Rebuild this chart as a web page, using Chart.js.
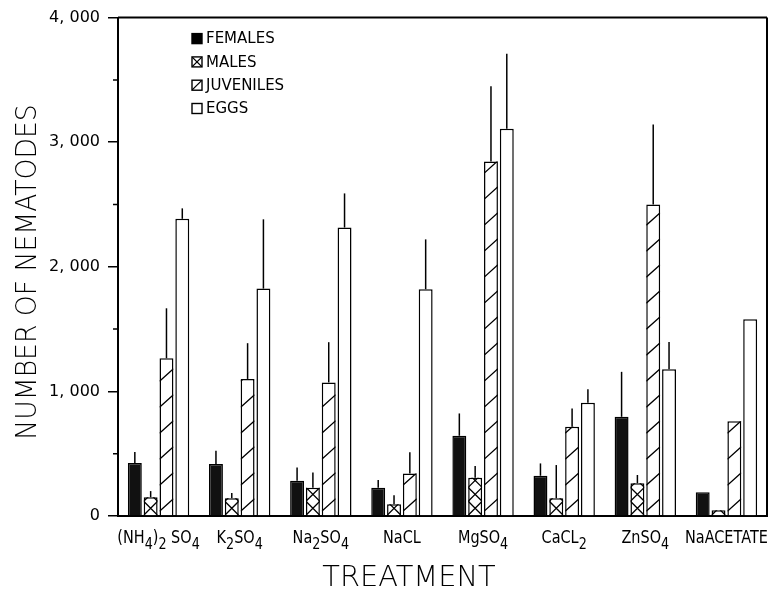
<!DOCTYPE html>
<html>
<head>
<meta charset="utf-8">
<script src="https://cdn.jsdelivr.net/npm/chart.js@4.4.0/dist/chart.umd.min.js"></script>
<style>
    html, body { margin: 0; padding: 0; background: #fff; }
    #wrap { width: 774px; height: 591px; }
</style>
</head>
<body>
<div id="wrap"><canvas id="chart" width="774" height="591"></canvas></div>
<script>
// '_' marks the next character as a subscript
const treatments = ['(NH_4)_2 SO_4', 'K_2SO_4', 'Na_2SO_4', 'NaCL', 'MgSO_4', 'CaCL_2', 'ZnSO_4', 'NaACETATE'];

const females      = [425, 417, 283, 227, 644, 323, 796, 190];
const femalesErr   = [88, 106, 107, 62, 179, 99, 361, 0];
const males        = [150, 142, 227, 94, 307, 142, 262, 46];
const malesErr     = [50, 42, 123, 72, 94, 267, 67, 0];
const juveniles    = [1266, 1100, 1072, 342, 2846, 716, 2501, 761];
const juvenilesErr = [401, 287, 323, 169, 603, 147, 641, 0];
const eggs         = [2385, 1825, 2315, 1820, 3107, 908, 1178, 1579];
const eggsErr      = [84, 556, 274, 400, 602, 110, 219, 0];

const yTicks = [0, 1000, 2000, 3000, 4000];
const legendNames = ['FEMALES', 'MALES', 'JUVENILES', 'EGGS'];

const FONT = '"DejaVu Sans", sans-serif';

function fmtTick(v) {
    if (v === 0) return '0';
    return Math.floor(v / 1000) + ', ' + String(v % 1000).padStart(3, '0');
}

function drawHatch(ctx, kind, left, right, top, bottom, lw) {
    const w = right - left;
    ctx.save();
    ctx.beginPath();
    ctx.rect(left, top, w, bottom - top);
    ctx.clip();
    ctx.strokeStyle = '#000';
    ctx.lineWidth = lw || 1.3;
    ctx.beginPath();
    if (kind === 'cross') {
        for (let yb = bottom; yb > top - w; yb -= w) {
            ctx.moveTo(left, yb); ctx.lineTo(right, yb - w);
            ctx.moveTo(left, yb - w); ctx.lineTo(right, yb);
        }
    } else if (kind === 'diag') {
        for (let yb = bottom - 4; yb > top - w; yb -= 26) {
            ctx.moveTo(left, yb); ctx.lineTo(right, yb - w * 0.9);
        }
    } else if (kind === 'slash') {
        ctx.moveTo(left, bottom); ctx.lineTo(right, top);
    }
    ctx.stroke();
    ctx.restore();
}

// hatching on top of the white bars
const hatchPlugin = {
    id: 'hatch',
    afterDatasetsDraw(chart) {
        const ctx = chart.ctx;
        chart.data.datasets.forEach((ds, i) => {
            if (!ds.hatch) return;
            chart.getDatasetMeta(i).data.forEach(el => {
                const p = el.getProps(['x', 'y', 'base', 'width'], true);
                drawHatch(ctx, ds.hatch, p.x - p.width / 2, p.x + p.width / 2, p.y, p.base);
            });
        });
    }
};

// one-sided error bars (line only, no caps)
const errorPlugin = {
    id: 'errors',
    afterDatasetsDraw(chart) {
        const ctx = chart.ctx;
        const yScale = chart.scales.y;
        ctx.save();
        ctx.strokeStyle = '#000';
        ctx.lineWidth = 1.5;
        chart.data.datasets.forEach((ds, i) => {
            chart.getDatasetMeta(i).data.forEach((el, j) => {
                const e = ds.errors[j];
                if (!e) return;
                const p = el.getProps(['x', 'y'], true);
                ctx.beginPath();
                ctx.moveTo(p.x, p.y);
                ctx.lineTo(p.x, yScale.getPixelForValue(ds.data[j] + e));
                ctx.stroke();
            });
        });
        ctx.restore();
    }
};

function drawLabel(ctx, text, cx, baseline) {
    const segs = [];
    for (let i = 0; i < text.length; i++) {
        if (text[i] === '_') { segs.push({ t: text[i + 1], sub: true }); i++; }
        else if (segs.length && !segs[segs.length - 1].sub) segs[segs.length - 1].t += text[i];
        else segs.push({ t: text[i], sub: false });
    }
    const mainFont = '17px ' + FONT, subFont = '15px ' + FONT;
    let total = 0;
    segs.forEach(s => { ctx.font = s.sub ? subFont : mainFont; s.w = ctx.measureText(s.t).width; total += s.w; });
    ctx.save();
    ctx.translate(cx, baseline);
    ctx.scale(0.85, 1);
    ctx.fillStyle = '#000';
    ctx.textAlign = 'left';
    ctx.textBaseline = 'alphabetic';
    let x = -total / 2;
    segs.forEach(s => {
        ctx.font = s.sub ? subFont : mainFont;
        ctx.fillText(s.t, x, s.sub ? 6 : 0);
        x += s.w;
    });
    ctx.restore();
}

// frame, minor ticks, category labels, titles and legend
const decorPlugin = {
    id: 'decor',
    afterDraw(chart) {
        const ctx = chart.ctx;
        const a = chart.chartArea;
        const xScale = chart.scales.x, yScale = chart.scales.y;
        ctx.save();
        ctx.strokeStyle = '#000';
        ctx.lineWidth = 2;
        ctx.beginPath();
        ctx.moveTo(a.left, a.top); ctx.lineTo(a.right, a.top);
        ctx.moveTo(a.right, a.top); ctx.lineTo(a.right, a.bottom);
        ctx.stroke();

        // minor ticks halfway between the labelled ones
        ctx.lineWidth = 1.5;
        ctx.beginPath();
        for (let k = 0; k < yTicks.length - 1; k++) {
            const py = yScale.getPixelForValue((yTicks[k] + yTicks[k + 1]) / 2);
            ctx.moveTo(a.left - 5, py); ctx.lineTo(a.left, py);
        }
        ctx.stroke();

        treatments.forEach((t, i) => drawLabel(ctx, t, xScale.getPixelForValue(i), a.bottom + 27));

        // axis titles
        ctx.fillStyle = '#000';
        ctx.textAlign = 'center';
        ctx.textBaseline = 'alphabetic';
        ctx.font = '200 28px ' + FONT;
        ctx.save();
        ctx.translate(409, a.bottom + 70);
        ctx.scale(1.03, 1);
        ctx.fillText('TREATMENT', 0, 0);
        ctx.restore();
        ctx.save();
        ctx.translate(36, 272);
        ctx.rotate(-Math.PI / 2);
        ctx.scale(0.95, 1);
        ctx.fillText('NUMBER OF NEMATODES', 0, 0);
        ctx.restore();

        // legend
        ctx.font = '15px ' + FONT;
        ctx.textAlign = 'left';
        ctx.textBaseline = 'middle';
        const kinds = ['solid', 'cross', 'slash', 'none'];
        legendNames.forEach((name, i) => {
            const bx = a.left + 74, cy = a.top + 21 + i * 23.3;
            const top = cy - 5, bottom = cy + 5;
            ctx.fillStyle = kinds[i] === 'solid' ? '#000' : '#fff';
            ctx.fillRect(bx, top, 10, 10);
            if (kinds[i] === 'cross' || kinds[i] === 'slash') drawHatch(ctx, kinds[i], bx, bx + 10, top, bottom, 1.2);
            ctx.lineWidth = 1.4;
            ctx.strokeRect(bx, top, 10, 10);
            ctx.fillStyle = '#000';
            ctx.fillText(name, bx + 14, cy + 1);
        });
        ctx.restore();
    }
};

const barStyle = { borderColor: '#000', borderWidth: 1.5 };

new Chart(document.getElementById('chart'), {
    type: 'bar',
    data: {
        labels: treatments,
        datasets: [
            Object.assign({ label: 'FEMALES', data: females, errors: femalesErr, backgroundColor: '#111' }, barStyle),
            Object.assign({ label: 'MALES', data: males, errors: malesErr, backgroundColor: '#fff', hatch: 'cross' }, barStyle),
            Object.assign({ label: 'JUVENILES', data: juveniles, errors: juvenilesErr, backgroundColor: '#fff', hatch: 'diag' }, barStyle),
            Object.assign({ label: 'EGGS', data: eggs, errors: eggsErr, backgroundColor: '#fff' }, barStyle)
        ]
    },
    options: {
        responsive: false,
        animation: false,
        devicePixelRatio: 1,
        layout: { padding: { top: 16, right: 7, left: 0, bottom: 0 } },
        datasets: { bar: { categoryPercentage: 0.78, barPercentage: 0.88 } },
        scales: {
            x: {
                grid: { display: true, drawOnChartArea: false, drawTicks: false },
                border: { display: true, color: '#000', width: 2 },
                ticks: { display: false },
                afterFit: s => { s.height = 75; }
            },
            y: {
                min: 0,
                max: 4000,
                afterBuildTicks: s => { s.ticks = yTicks.map(v => ({ value: v })); },
                ticks: {
                    color: '#000',
                    font: { family: FONT, size: 16 },
                    padding: 8,
                    callback: v => fmtTick(v)
                },
                grid: { drawOnChartArea: false, drawTicks: true, tickLength: 10, color: '#000', lineWidth: 1.5 },
                border: { display: true, color: '#000', width: 2 },
                afterFit: s => { s.width = 118; }
            }
        },
        plugins: {
            legend: { display: false },
            tooltip: { enabled: false }
        }
    },
    plugins: [hatchPlugin, errorPlugin, decorPlugin]
});
</script>
</body>
</html>
